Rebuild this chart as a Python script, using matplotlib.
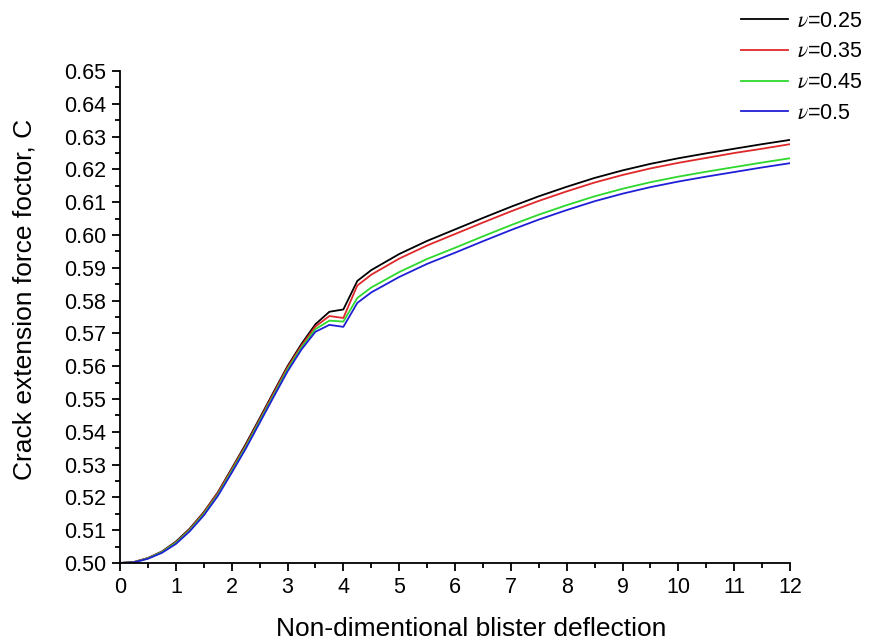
"""Crack extension force factor vs non-dimensional blister deflection."""
import matplotlib
matplotlib.use("Agg")
import matplotlib.pyplot as plt
from matplotlib.ticker import MultipleLocator, FormatStrFormatter

plt.rcParams["font.family"] = ["Liberation Sans", "DejaVu Sans"]
plt.rcParams["mathtext.fontset"] = "stix"

deflection = [0, 0.25, 0.5, 0.75, 1, 1.25, 1.5, 1.75, 2, 2.25, 2.5, 2.75,
              3, 3.25, 3.5, 3.75, 4, 4.25, 4.5, 5, 5.5, 6, 6.5, 7, 7.5, 8,
              8.5, 9, 9.5, 10, 10.5, 11, 11.5, 12]

c_025 = [0.5000, 0.5003, 0.5015, 0.5035, 0.5065, 0.5105, 0.5155, 0.5215,
         0.5288, 0.5362, 0.5441, 0.5521, 0.5600, 0.5668, 0.5728, 0.5766,
         0.5773, 0.5860, 0.5893, 0.5942, 0.5982, 0.6017, 0.6052, 0.6086,
         0.6118, 0.6147, 0.6174, 0.6197, 0.6217, 0.6234, 0.6249, 0.6263,
         0.6277, 0.6290]
c_035 = [0.5000, 0.5003, 0.5015, 0.5034, 0.5063, 0.5103, 0.5153, 0.5213,
         0.5285, 0.5358, 0.5437, 0.5517, 0.5596, 0.5663, 0.5721, 0.5753,
         0.5747, 0.5846, 0.5879, 0.5928, 0.5968, 0.6003, 0.6038, 0.6072,
         0.6104, 0.6133, 0.6160, 0.6183, 0.6203, 0.6220, 0.6235, 0.6250,
         0.6263, 0.6277]
c_045 = [0.5000, 0.5002, 0.5014, 0.5033, 0.5061, 0.5100, 0.5149, 0.5208,
         0.5280, 0.5353, 0.5432, 0.5511, 0.5590, 0.5657, 0.5713, 0.5739,
         0.5736, 0.5808, 0.5840, 0.5887, 0.5927, 0.5961, 0.5996, 0.6030,
         0.6062, 0.6091, 0.6118, 0.6141, 0.6161, 0.6178, 0.6193, 0.6207,
         0.6221, 0.6234]
c_050 = [0.5000, 0.5002, 0.5013, 0.5031, 0.5058, 0.5097, 0.5145, 0.5204,
         0.5275, 0.5348, 0.5427, 0.5506, 0.5584, 0.5651, 0.5705, 0.5726,
         0.5720, 0.5793, 0.5825, 0.5872, 0.5912, 0.5946, 0.5981, 0.6015,
         0.6047, 0.6076, 0.6103, 0.6126, 0.6146, 0.6163, 0.6178, 0.6192,
         0.6206, 0.6219]

series = [(r"$\nu$=0.25", c_025, "#000000"),
          (r"$\nu$=0.35", c_035, "#e0282a"),
          (r"$\nu$=0.45", c_045, "#2ed82e"),
          (r"$\nu$=0.5", c_050, "#1f1fd6")]

fig = plt.figure(figsize=(8.71, 6.41), dpi=100)
ax = fig.add_axes([0.1378, 0.1217, 0.7692, 0.7675])
for label, vals, color in series:
    ax.plot(deflection, vals, color=color, linewidth=1.3, label=label)

ax.set_xlim(0, 12)
ax.set_ylim(0.50, 0.65)
ax.xaxis.set_major_locator(MultipleLocator(1))
ax.xaxis.set_minor_locator(MultipleLocator(0.5))
ax.yaxis.set_major_locator(MultipleLocator(0.01))
ax.yaxis.set_minor_locator(MultipleLocator(0.005))
ax.yaxis.set_major_formatter(FormatStrFormatter("%.2f"))
ax.spines["top"].set_visible(False)
ax.spines["right"].set_visible(False)
for s in ("left", "bottom"):
    ax.spines[s].set_linewidth(1.3)
ax.tick_params(which="major", direction="out", length=6, width=1.3,
               labelsize=15.5, pad=4)
ax.tick_params(which="minor", direction="out", length=3.5, width=1.3)

ax.set_xlabel("Non-dimentional blister deflection", fontsize=19)
ax.set_ylabel("Crack extension force foctor, C", fontsize=19)
ax.xaxis.set_label_coords(0.524, -0.11)
ax.yaxis.set_label_coords(-0.125, 0.535)

fig.legend(loc="upper right", bbox_to_anchor=(0.995, 0.99), frameon=False,
           fontsize=15.5, handlelength=2.2, handletextpad=0.4,
           labelspacing=0.45, borderpad=0.2, borderaxespad=0)

fig.savefig("out.png", dpi=100)
